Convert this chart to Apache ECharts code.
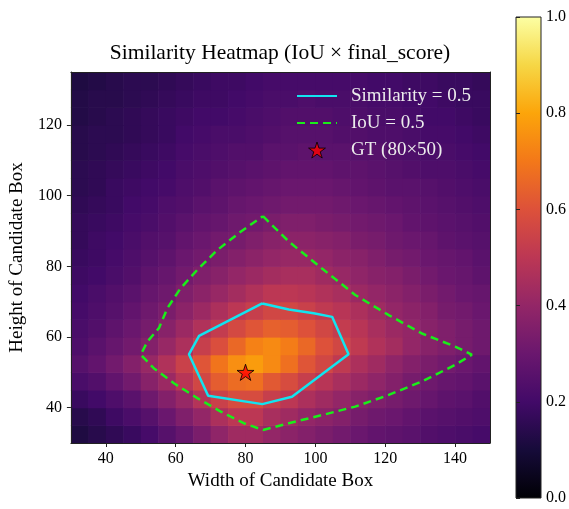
<!DOCTYPE html>
<html><head><meta charset="utf-8">
<script src="https://cdn.jsdelivr.net/npm/echarts@6/dist/echarts.min.js"></script>
<style>html,body{margin:0;padding:0;background:#fff}#c{width:569px;height:509px}</style>
</head><body><div id="c"></div>
<script>
// ---- data ----
const widthCenters = [32.5,37.5,42.5,47.5,52.5,57.5,62.5,67.5,72.5,77.5,82.5,87.5,92.5,97.5,102.5,107.5,112.5,117.5,122.5,127.5,132.5,137.5,142.5,147.5];
const heightCenters = [32.5,37.5,42.5,47.5,52.5,57.5,62.5,67.5,72.5,77.5,82.5,87.5,92.5,97.5,102.5,107.5,112.5,117.5,122.5,127.5,132.5];
// one row per heightCenters entry (bottom to top), one value per widthCenters entry
const similarityRows = [
 [0.12,0.14,0.16,0.18,0.21,0.25,0.29,0.34,0.39,0.43,0.43,0.40,0.38,0.36,0.34,0.32,0.30,0.28,0.27,0.26,0.24,0.23,0.22,0.21],
 [0.14,0.16,0.19,0.22,0.25,0.30,0.35,0.40,0.46,0.50,0.50,0.45,0.43,0.40,0.38,0.36,0.33,0.31,0.30,0.28,0.26,0.25,0.24,0.23],
 [0.18,0.20,0.23,0.26,0.31,0.36,0.41,0.48,0.54,0.58,0.58,0.53,0.50,0.46,0.43,0.40,0.37,0.35,0.33,0.31,0.29,0.27,0.26,0.24],
 [0.22,0.24,0.28,0.32,0.37,0.42,0.49,0.56,0.63,0.67,0.68,0.62,0.58,0.53,0.49,0.45,0.42,0.39,0.36,0.33,0.31,0.29,0.28,0.26],
 [0.25,0.28,0.32,0.36,0.41,0.47,0.54,0.61,0.69,0.75,0.78,0.74,0.68,0.61,0.56,0.51,0.46,0.43,0.39,0.36,0.34,0.32,0.30,0.28],
 [0.23,0.26,0.29,0.32,0.36,0.41,0.46,0.53,0.59,0.66,0.72,0.74,0.71,0.66,0.60,0.56,0.51,0.47,0.44,0.40,0.37,0.35,0.33,0.31],
 [0.22,0.24,0.27,0.30,0.33,0.37,0.42,0.47,0.52,0.57,0.61,0.64,0.63,0.60,0.56,0.52,0.49,0.45,0.42,0.40,0.37,0.35,0.33,0.31],
 [0.21,0.23,0.25,0.28,0.31,0.34,0.38,0.42,0.46,0.50,0.53,0.56,0.56,0.54,0.51,0.49,0.46,0.43,0.40,0.38,0.36,0.33,0.32,0.30],
 [0.20,0.22,0.24,0.26,0.29,0.31,0.35,0.38,0.41,0.44,0.47,0.50,0.50,0.49,0.47,0.45,0.42,0.40,0.38,0.36,0.34,0.32,0.30,0.29],
 [0.19,0.20,0.22,0.24,0.27,0.29,0.32,0.35,0.37,0.40,0.42,0.44,0.45,0.45,0.43,0.41,0.39,0.37,0.36,0.34,0.32,0.30,0.29,0.27],
 [0.18,0.19,0.21,0.23,0.25,0.27,0.30,0.32,0.34,0.36,0.38,0.40,0.41,0.41,0.40,0.38,0.37,0.35,0.33,0.32,0.30,0.29,0.28,0.26],
 [0.17,0.19,0.20,0.22,0.24,0.25,0.28,0.30,0.32,0.33,0.35,0.37,0.38,0.38,0.37,0.36,0.34,0.33,0.31,0.30,0.29,0.27,0.26,0.25],
 [0.17,0.18,0.19,0.21,0.22,0.24,0.26,0.28,0.29,0.31,0.32,0.34,0.35,0.35,0.34,0.33,0.32,0.31,0.30,0.28,0.27,0.26,0.25,0.24],
 [0.16,0.17,0.18,0.20,0.21,0.23,0.24,0.26,0.27,0.29,0.30,0.31,0.32,0.32,0.32,0.31,0.30,0.29,0.28,0.27,0.26,0.25,0.24,0.23],
 [0.15,0.16,0.18,0.19,0.20,0.21,0.23,0.24,0.26,0.27,0.28,0.29,0.30,0.30,0.30,0.29,0.28,0.27,0.26,0.26,0.25,0.24,0.23,0.22],
 [0.15,0.16,0.17,0.18,0.19,0.20,0.22,0.23,0.24,0.25,0.26,0.27,0.28,0.28,0.28,0.27,0.27,0.26,0.25,0.24,0.23,0.23,0.22,0.21],
 [0.14,0.15,0.16,0.17,0.18,0.19,0.21,0.22,0.23,0.24,0.24,0.26,0.26,0.27,0.26,0.26,0.25,0.25,0.24,0.23,0.22,0.22,0.21,0.20],
 [0.14,0.15,0.15,0.16,0.17,0.18,0.20,0.21,0.22,0.22,0.23,0.24,0.25,0.25,0.25,0.24,0.24,0.23,0.23,0.22,0.21,0.21,0.20,0.19],
 [0.13,0.14,0.15,0.16,0.17,0.18,0.19,0.20,0.20,0.21,0.22,0.23,0.24,0.24,0.24,0.23,0.23,0.22,0.22,0.21,0.20,0.20,0.19,0.18],
 [0.13,0.14,0.14,0.15,0.16,0.17,0.18,0.19,0.19,0.20,0.21,0.22,0.22,0.23,0.22,0.22,0.22,0.21,0.21,0.20,0.20,0.19,0.18,0.18],
 [0.12,0.13,0.14,0.15,0.15,0.16,0.17,0.18,0.19,0.19,0.20,0.21,0.21,0.21,0.21,0.21,0.21,0.20,0.20,0.19,0.19,0.18,0.18,0.17]
];
const simContourW = [84.8,92.4,99.5,104.8,109.5,93.3,84.8,69.3,63.8,66.7,84.8];
const simContourH = [69.5,67.8,66.7,65.7,55.1,43.1,41.0,43.4,55.1,60.3,69.5];
const iouContourW = [85.0,92.4,101.9,111.4,121.0,130.5,140.0,144.8,140.0,130.5,121.0,111.4,101.9,92.4,85.0,79.5,72.9,66.2,59.5,53.8,50.0,51.9,55.2,57.6,61.4,66.2,71.9,78.6,85.0];
const iouContourH = [94.2,87.0,79.4,71.9,66.2,61.0,57.3,55.0,52.1,47.4,43.6,40.3,37.9,35.6,33.7,35.6,38.9,42.7,46.9,51.1,55.0,58.7,62.5,68.1,73.8,79.0,84.6,89.8,94.2];
const gtW = [80];
const gtH = [50];
const xTicks = [40,60,80,100,120,140];
const yTicks = [40,60,80,100,120];
const seriesNames = ['Similarity = 0.5','IoU = 0.5','GT (80×50)'];
const infernoStops = ['#000004','#160b39','#420a68','#6a176e','#932667','#bc3754','#dd513a','#f37819','#fca50a','#f6d746','#fcffa4'];

// ---- build ----
const CELL = 5;
const FONT = '"Liberation Serif","Times New Roman",serif';
const PLOT = {left: 70, top: 72, width: 420, height: 371};
const CBAR = {left: 516, top: 17, width: 27, height: 481};

const heatData = [];
heightCenters.forEach((h, r) => widthCenters.forEach((w, c) => heatData.push([w, h, similarityRows[r][c]])));
const zip = (a, b) => a.map((v, i) => [v, b[i]]);
const STAR = 'path://M50,0 L61.2,34.5 L97.6,34.5 L68.2,55.9 L79.4,90.5 L50,69.1 L20.6,90.5 L31.8,55.9 L2.4,34.5 L38.8,34.5 Z';
const starStyle = {color: '#ff0000', borderColor: '#000', borderWidth: 1};

const chart = echarts.init(document.getElementById('c'), null, {renderer: 'canvas'});
const axisText = {fontFamily: FONT, fontSize: 16, color: '#000'};
const frameAxis = {show: true, onZero: false, lineStyle: {color: '#222', width: 1}};

chart.setOption({
  animation: false,
  backgroundColor: '#fff',
  graphic: [{
    type: 'text', x: PLOT.left + PLOT.width / 2, y: 53, z: 10,
    style: {text: 'Similarity Heatmap (IoU × final_score)', fontFamily: FONT, fontSize: 21.5, fill: '#000', textAlign: 'center', textVerticalAlign: 'middle'}
  }],
  grid: [
    Object.assign({show: false}, PLOT),
    Object.assign({show: false}, CBAR)
  ],
  xAxis: [
    {gridIndex: 0, type: 'value', min: 30, max: 150, position: 'bottom', z: 10,
     axisLine: frameAxis,
     axisTick: {show: true, customValues: xTicks, length: 4, lineStyle: {color: '#222'}},
     axisLabel: Object.assign({customValues: xTicks, margin: 8}, axisText),
     splitLine: {show: false},
     name: 'Width of Candidate Box', nameLocation: 'middle', nameGap: 25.5,
     nameTextStyle: {fontFamily: FONT, fontSize: 19, color: '#000'}},
    {gridIndex: 0, type: 'value', min: 30, max: 150, position: 'top', z: 10,
     axisLine: frameAxis, axisTick: {show: false}, axisLabel: {show: false}, splitLine: {show: false}},
    {gridIndex: 1, type: 'value', min: 0, max: 1, show: false}
  ],
  yAxis: [
    {gridIndex: 0, type: 'value', min: 30, max: 135, position: 'left', z: 10,
     axisLine: frameAxis,
     axisTick: {show: true, customValues: yTicks, length: 4, lineStyle: {color: '#222'}},
     axisLabel: Object.assign({customValues: yTicks, margin: 9}, axisText),
     splitLine: {show: false},
     name: 'Height of Candidate Box', nameLocation: 'middle', nameGap: 40.5,
     nameTextStyle: {fontFamily: FONT, fontSize: 19, color: '#000'}},
    {gridIndex: 0, type: 'value', min: 30, max: 135, position: 'right', z: 10,
     axisLine: frameAxis, axisTick: {show: false}, axisLabel: {show: false}, splitLine: {show: false}},
    {gridIndex: 1, type: 'value', min: 0, max: 1, interval: 0.2, position: 'right', z: 10,
     axisLine: {show: false},
     axisTick: {show: true, length: 4, lineStyle: {color: '#222'}},
     axisLabel: Object.assign({margin: 5, formatter: v => v.toFixed(1)}, axisText),
     splitLine: {show: false}}
  ],
  visualMap: {type: 'continuous', show: false, min: 0, max: 1, dimension: 2, seriesIndex: 0,
              inRange: {color: infernoStops}},
  legend: {
    data: [
      {name: seriesNames[0], itemStyle: {opacity: 0, borderWidth: 0}},
      {name: seriesNames[1], itemStyle: {opacity: 0, borderWidth: 0}},
      {name: seriesNames[2], itemStyle: starStyle}
    ],
    orient: 'vertical', left: 296, top: 86.5, padding: 0,
    itemWidth: 40, itemHeight: 16, itemGap: 8,
    textStyle: {color: '#ececec', fontFamily: FONT, fontSize: 19, padding: [0, 0, 0, 9]}
  },
  series: [
    {type: 'custom', name: 'similarity', xAxisIndex: 0, yAxisIndex: 0, data: heatData, clip: true, z: 1,
     encode: {x: 0, y: 1},
     renderItem: (params, api) => {
       const x = api.value(0), y = api.value(1);
       const p0 = api.coord([x - CELL / 2, y + CELL / 2]);
       const p1 = api.coord([x + CELL / 2, y - CELL / 2]);
       return {type: 'rect', shape: {x: p0[0], y: p0[1], width: p1[0] - p0[0] + 0.6, height: p1[1] - p0[1] + 0.6},
               style: {fill: api.visual('color')}};
     }},
    {type: 'line', name: seriesNames[0], xAxisIndex: 0, yAxisIndex: 0, data: zip(simContourW, simContourH),
     symbol: 'none', z: 4, lineStyle: {color: '#12e4f0', width: 2.5}, itemStyle: {color: '#12e4f0'}},
    {type: 'line', name: seriesNames[1], xAxisIndex: 0, yAxisIndex: 0, data: zip(iouContourW, iouContourH),
     symbol: 'none', z: 4, lineStyle: {color: '#1aee1a', width: 2.5, type: [8, 5]}, itemStyle: {color: '#1aee1a'}},
    {type: 'scatter', name: seriesNames[2], xAxisIndex: 0, yAxisIndex: 0, data: zip(gtW, gtH),
     symbol: STAR, symbolSize: 17, symbolKeepAspect: true, z: 5,
     itemStyle: starStyle},
    {type: 'custom', name: 'colorbar', xAxisIndex: 2, yAxisIndex: 2, data: [[0, 0]], z: 1, silent: true,
     renderItem: (params, api) => {
       const a = api.coord([0, 1]), b = api.coord([1, 0]);
       const stops = infernoStops.map((c, i) => ({offset: 1 - i / (infernoStops.length - 1), color: c})).reverse();
       return {type: 'rect', shape: {x: a[0], y: a[1], width: b[0] - a[0], height: b[1] - a[1]},
               style: {fill: new echarts.graphic.LinearGradient(0, 0, 0, 1, stops), stroke: '#222', lineWidth: 1}};
     }}
  ]
});
</script></body></html>
